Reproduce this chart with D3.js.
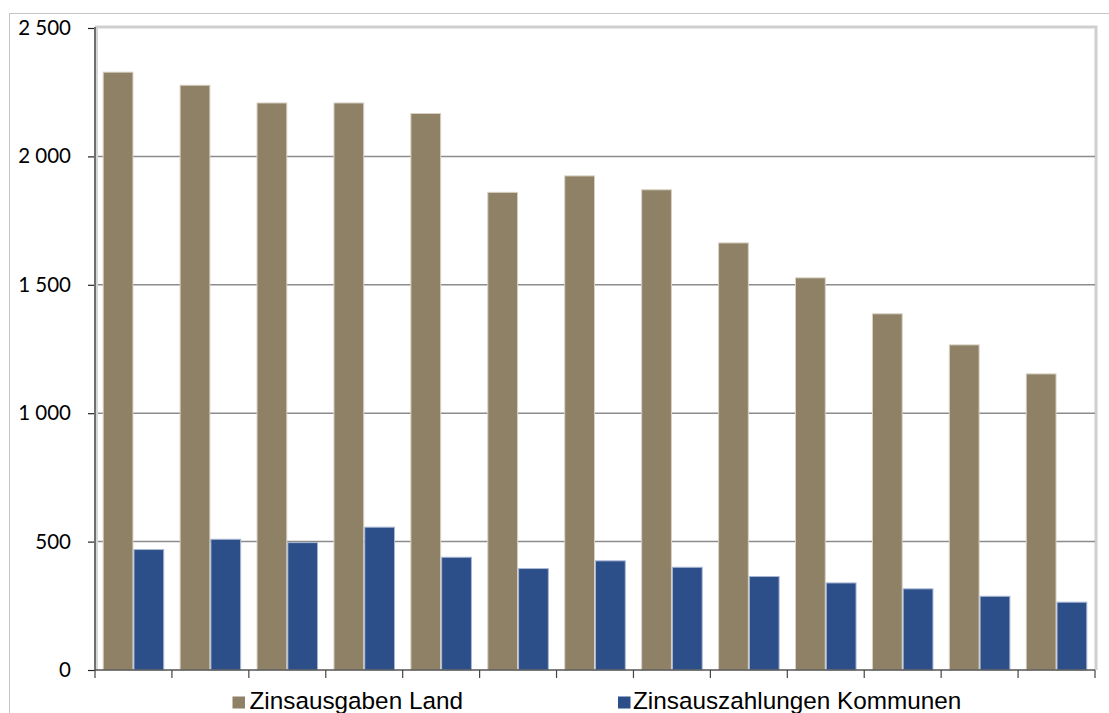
<!DOCTYPE html>
<html>
<head>
<meta charset="utf-8">
<script src="https://cdn.jsdelivr.net/npm/d3@7"></script>
<style>
  html, body { margin: 0; padding: 0; background: #fff; }
  svg { display: block; }
</style>
</head>
<body>
<svg id="chart" width="1109" height="713"></svg>
<script>
// Category slots (no axis labels are shown for them)
const categories = ["1", "2", "3", "4", "5", "6", "7", "8", "9", "10", "11", "12", "13"];
const seriesNames = ["Zinsausgaben Land", "Zinsauszahlungen Kommunen"];
const zinsausgabenLand = [2330, 2279, 2210, 2210, 2169, 1862, 1926, 1872, 1665, 1529, 1389, 1268, 1155];
const zinsauszahlungenKommunen = [471, 511, 498, 558, 441, 397, 427, 402, 366, 341, 318, 289, 266];
const yTicks = [0, 500, 1000, 1500, 2000, 2500];
const seriesColors = ["#8f8166", "#2c4f8a"];
const seriesEdges = ["#d8d1c3", "#a9b7d3"];

const svg = d3.select("#chart");

const plot = { left: 95, right: 1095, top: 28, bottom: 670 };

// Outer chart frame
svg.append("rect")
  .attr("x", 9.5).attr("y", 13.5)
  .attr("width", 1120).attr("height", 720)
  .attr("fill", "none").attr("stroke", "#c4c4c4").attr("stroke-width", 1);

const x = d3.scaleBand().domain(categories).range([plot.left, plot.right]).padding(0);
const xs = d3.scaleBand().domain(seriesNames).range([0, x.bandwidth()])
  .paddingInner(0).paddingOuter(0.25);
const y = d3.scaleLinear().domain([0, 2500]).range([plot.bottom, plot.top]);

const fmt = d3.formatLocale({ decimal: ",", thousands: " ", grouping: [3], currency: ["", " €"] }).format(",d");

// Plot area border (top and right)
svg.append("path")
  .attr("d", `M${plot.left},${plot.top - 1} H${plot.right + 1} V${plot.bottom}`)
  .attr("fill", "none").attr("stroke", "#cfcfcf").attr("stroke-width", 3);

// Horizontal gridlines
svg.append("g").selectAll("line")
  .data(yTicks.filter(d => d > 0 && d < 2500))
  .join("line")
  .attr("x1", plot.left).attr("x2", plot.right)
  .attr("y1", d => y(d)).attr("y2", d => y(d))
  .attr("stroke", "#8c8c8c").attr("stroke-width", 1.5);

// Bars
const data = categories.map((c, i) => ({
  cat: c,
  values: [zinsausgabenLand[i], zinsauszahlungenKommunen[i]]
}));

const groups = svg.append("g").selectAll("g")
  .data(data)
  .join("g")
  .attr("transform", d => `translate(${x(d.cat)},0)`);

groups.selectAll("rect")
  .data(d => d.values.map((v, k) => ({ key: seriesNames[k], k, v })))
  .join("rect")
  .attr("x", d => xs(d.key) + 0.5)
  .attr("width", xs.bandwidth() - 1)
  .attr("y", d => y(d.v) + 0.5)
  .attr("height", d => y(0) - y(d.v) - 0.5)
  .attr("fill", d => seriesColors[d.k])
  .attr("stroke", d => seriesEdges[d.k])
  .attr("stroke-width", 1);

// Y axis
const yAxis = d3.axisLeft(y).tickValues(yTicks).tickFormat(fmt).tickSize(7).tickPadding(17);
const gy = svg.append("g").attr("transform", `translate(${plot.left},0)`).call(yAxis);
gy.select(".domain").remove();
gy.selectAll(".tick line").attr("stroke", "#222").attr("stroke-width", 1.2);
gy.selectAll(".tick text")
  .attr("font-family", "Lato, 'Open Sans', sans-serif")
  .attr("font-size", 20.5)
  .attr("fill", "#000");
svg.append("line")
  .attr("x1", plot.left + 2).attr("x2", plot.left + 2)
  .attr("y1", plot.top).attr("y2", plot.bottom)
  .attr("stroke", "#d6d6d6").attr("stroke-width", 2);
svg.append("line")
  .attr("x1", plot.left).attr("x2", plot.left)
  .attr("y1", plot.top - 1).attr("y2", plot.bottom + 1)
  .attr("stroke", "#6f6f6f").attr("stroke-width", 2);

// X axis with ticks at category boundaries
const boundaries = categories.map(c => x(c)).concat([plot.right]);
const gx = svg.append("g");
gx.append("line")
  .attr("x1", plot.left).attr("x2", plot.right)
  .attr("y1", plot.bottom).attr("y2", plot.bottom)
  .attr("stroke", "#555").attr("stroke-width", 1.5);
gx.selectAll("line.tick")
  .data(boundaries)
  .join("line")
  .attr("class", "tick")
  .attr("x1", d => d).attr("x2", d => d)
  .attr("y1", plot.bottom).attr("y2", plot.bottom + 8)
  .attr("stroke", "#444").attr("stroke-width", 1.2);

// Legend
const legendItems = [
  { name: seriesNames[0], color: seriesColors[0], mx: 232.5, tx: 249.5 },
  { name: seriesNames[1], color: seriesColors[1], mx: 618, tx: 633 }
];
const lg = svg.append("g");
lg.selectAll("rect")
  .data(legendItems)
  .join("rect")
  .attr("x", d => d.mx).attr("y", 696.5)
  .attr("width", 12.5).attr("height", 12)
  .attr("fill", d => d.color);
lg.selectAll("text")
  .data(legendItems)
  .join("text")
  .attr("x", d => d.tx).attr("y", 709)
  .attr("font-family", "'Liberation Sans', Arial, sans-serif")
  .attr("font-size", 24.3)
  .attr("fill", "#000")
  .text(d => d.name);
</script>
</body>
</html>
